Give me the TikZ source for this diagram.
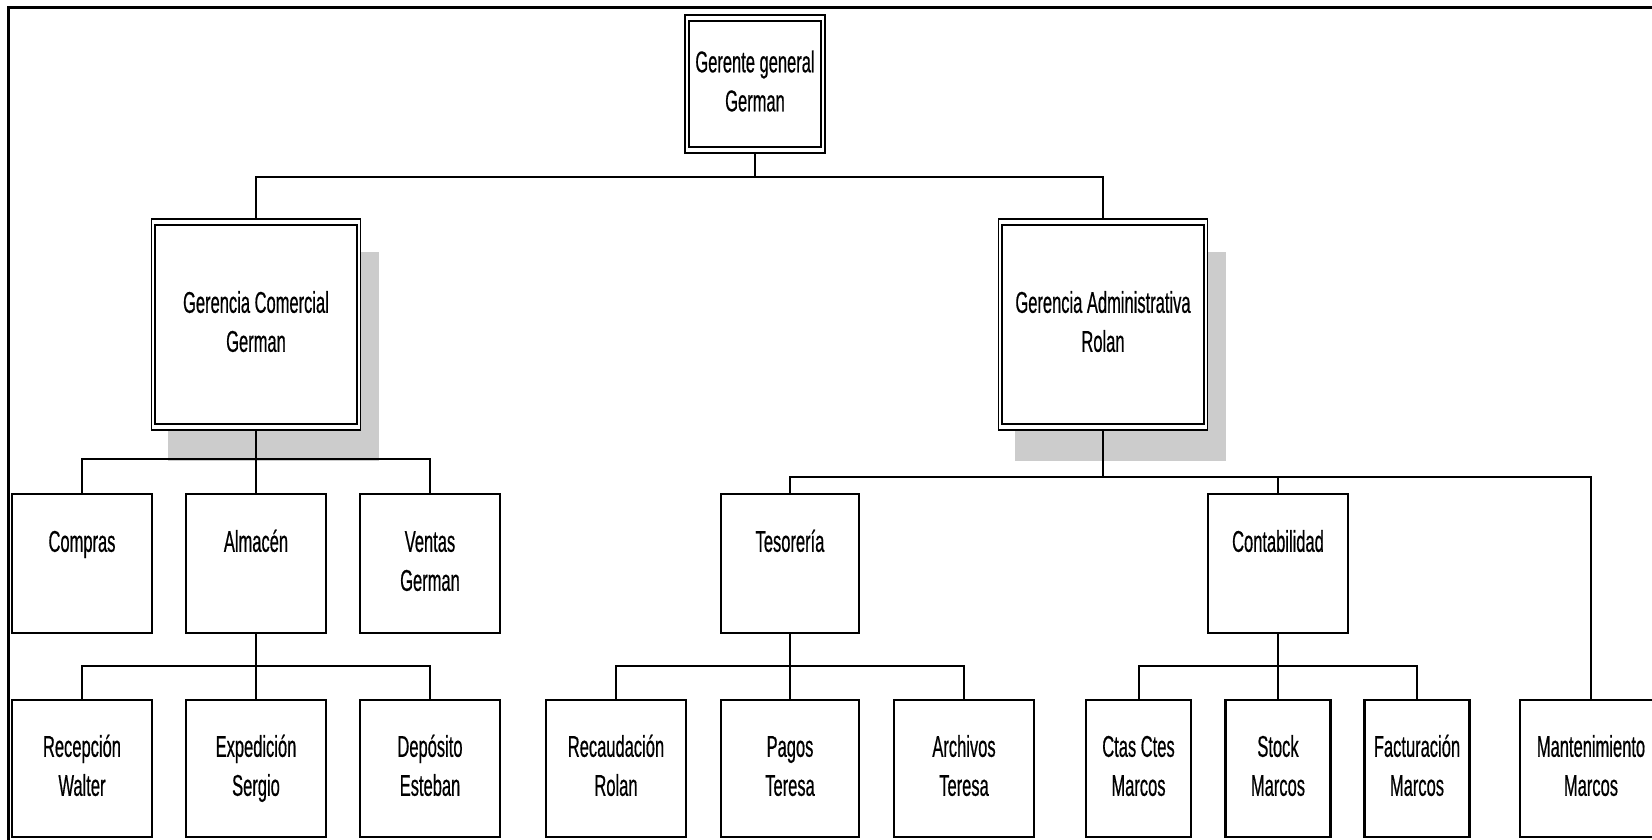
\documentclass[tikz,border=0pt]{standalone}
\usepackage{fontspec}
\setmainfont{Liberation Sans}[FakeStretch=0.55,FakeBold=0.5]
\usetikzlibrary{backgrounds}
\definecolor{shadowgray}{RGB}{204,204,204}
% two text lines of equal height, the second may be empty
\newcommand{\boxtext}[2]{\strut #1\\\strut #2}
\begin{document}
\begin{tikzpicture}[x=1pt,y=-1pt,
  every node/.style={font=\fontsize{30}{39}\selectfont, align=center, inner sep=0pt},
  unit/.style={draw, line width=2.2pt, fill=white, minimum width=140pt, minimum height=139pt},
  lowunit/.style={unit, minimum height=137pt},
  narrowunit/.style={lowunit, minimum width=105pt},
  mgr/.style={draw, line width=1.5pt, fill=white},
  innerframe/.style={line width=2.4pt},
  link/.style={line width=2pt},
  shade/.style={fill=shadowgray}]

\path[use as bounding box, clip] (0,0) rectangle (1652,840);

% page frame (top and left edges)
\draw[line width=3pt] (8,845) -- (8,8) -- (1660,8);

% bus levels
\coordinate (b0) at (0,177);
\coordinate (b1) at (0,459);
\coordinate (b2) at (0,477);
\coordinate (b3) at (0,666);

% managers
\node[mgr, minimum width=140pt, minimum height=138pt] (gg) at (755,84)
  {\boxtext{Gerente general}{German}};
\node[mgr, minimum width=209pt, minimum height=211pt] (gc) at (256,324.5)
  {\boxtext{Gerencia Comercial}{German}};
\node[mgr, minimum width=209pt, minimum height=211pt] (ga) at (1103,324.5)
  {\boxtext{Gerencia Administrativa}{Rolan}};

% inner frames of the manager boxes
\foreach \m in {gg,gc,ga}
  \draw[innerframe] ([shift={(4.5,6.5)}]\m.north west) rectangle ([shift={(-4.5,-6.5)}]\m.south east);

% departments
\node[unit] (compras)   at (82,563.5)   {\boxtext{Compras}{}};
\node[unit] (almacen)   at (256,563.5)  {\boxtext{Almacén}{}};
\node[unit] (ventas)    at (430,563.5)  {\boxtext{Ventas}{German}};
\node[unit, minimum width=138pt] (tesoreria) at (790,563.5)  {\boxtext{Tesorería}{}};
\node[unit] (contab)    at (1278,563.5) {\boxtext{Contabilidad}{}};

% sections
\node[lowunit] (recep)    at (82,768.5)   {\boxtext{Recepción}{Walter}};
\node[lowunit] (exped)    at (256,768.5)  {\boxtext{Expedición}{Sergio}};
\node[lowunit] (depos)    at (430,768.5)  {\boxtext{Depósito}{Esteban}};
\node[lowunit] (recaud)   at (616,768.5)  {\boxtext{Recaudación}{Rolan}};
\node[lowunit, minimum width=138pt] (pagos) at (790,768.5) {\boxtext{Pagos}{Teresa}};
\node[lowunit] (archivos) at (964,768.5)  {\boxtext{Archivos}{Teresa}};
\node[narrowunit] (ctas)  at (1138.5,768.5) {\boxtext{Ctas Ctes}{Marcos}};
\node[narrowunit] (stock) at (1278,768.5)   {\boxtext{Stock}{Marcos}};
\node[narrowunit] (fact)  at (1417,768.5)   {\boxtext{Facturación}{Marcos}};
\node[lowunit, minimum width=142pt] (mant) at (1591,768.5) {\boxtext{Mantenimiento}{Marcos}};

\begin{scope}[on background layer]
  % drop shadows of the two area managers
  \foreach \m in {gc,ga}
    \fill[shade] ([shift={(17,34)}]\m.north west) rectangle ([shift={(18,30)}]\m.south east);

  % reporting lines
  \draw[link] (gg.south) -- (gg.south |- b0);
  \foreach \c in {gc,ga}
    \draw[link] (\c.north) |- (gg.south |- b0);

  \draw[link] (gc.south) -- (gc.south |- b1);
  \foreach \c in {compras,almacen,ventas}
    \draw[link] (\c.north) |- (gc.south |- b1);

  \draw[link] (ga.south) -- (ga.south |- b2);
  \foreach \c in {tesoreria,contab,mant}
    \draw[link] (\c.north) |- (ga.south |- b2);

  \draw[link] (almacen.south) -- (almacen.south |- b3);
  \foreach \c in {recep,exped,depos}
    \draw[link] (\c.north) |- (almacen.south |- b3);

  \draw[link] (tesoreria.south) -- (tesoreria.south |- b3);
  \foreach \c in {recaud,pagos,archivos}
    \draw[link] (\c.north) |- (tesoreria.south |- b3);

  \draw[link] (contab.south) -- (contab.south |- b3);
  \foreach \c in {ctas,stock,fact}
    \draw[link] (\c.north) |- (contab.south |- b3);
\end{scope}
\end{tikzpicture}
\end{document}
